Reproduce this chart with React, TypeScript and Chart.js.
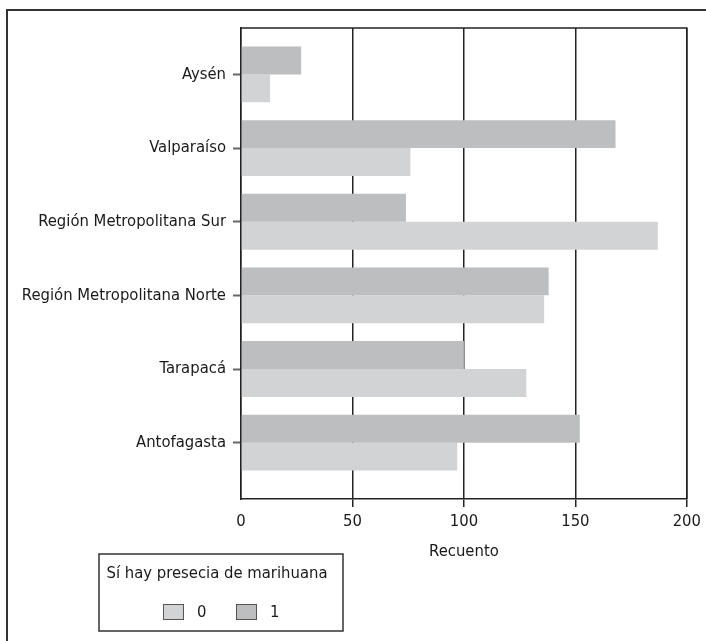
import React, { useEffect, useRef } from 'react';
import { Chart, registerables } from 'chart.js';

Chart.register(...registerables);

// ---- data ----
const regions = [
  'Aysén',
  'Valparaíso',
  'Región Metropolitana Sur',
  'Región Metropolitana Norte',
  'Tarapacá',
  'Antofagasta',
];
const presence1 = [27, 168, 74, 138, 100, 152];
const presence0 = [13, 76, 187, 136, 128, 97];
const seriesLabels = ['1', '0'];
const legendOrder = ['0', '1'];
const xTicks = [0, 50, 100, 150, 200];
const xTitle = 'Recuento';
const legendTitle = 'Sí hay presecia de marihuana';

const FAMILY = '"DejaVu Sans Condensed", "Liberation Sans Narrow", "Arial Narrow", sans-serif';
const FONT_SIZE = 16.5;
const TEXT = '#1a1a1a';
const LINE = '#222222';
const COLORS: Record<string, string> = { '1': '#bdbec0', '0': '#d2d3d5' };

const framePlugin = {
  id: 'frames',
  afterDraw(chart: any) {
    const { ctx, chartArea } = chart;
    const { left, top, right, bottom } = chartArea;
    ctx.save();
    // top and right borders of the plot
    ctx.strokeStyle = LINE;
    ctx.lineWidth = 1.5;
    ctx.beginPath();
    ctx.moveTo(left, top);
    ctx.lineTo(right, top);
    ctx.lineTo(right, bottom);
    ctx.stroke();

    // legend box
    const fx = 91;
    const fy = 543;
    ctx.strokeStyle = '#333';
    ctx.lineWidth = 1.5;
    ctx.strokeRect(fx, fy, 244, 77);

    ctx.font = `${FONT_SIZE}px ${FAMILY}`;
    ctx.fillStyle = TEXT;
    ctx.textBaseline = 'middle';
    ctx.textAlign = 'center';
    ctx.fillText(legendTitle, fx + 118, fy + 20);

    ctx.textAlign = 'left';
    legendOrder.forEach((lab, i) => {
      const bx = fx + 64 + i * 73;
      const by = fy + 50;
      ctx.fillStyle = COLORS[lab];
      ctx.fillRect(bx, by, 21, 16);
      ctx.strokeStyle = '#555';
      ctx.lineWidth = 1;
      ctx.strokeRect(bx + 0.5, by + 0.5, 20, 15);
      ctx.fillStyle = TEXT;
      ctx.fillText(lab, bx + 34, by + 8.5);
    });
    ctx.restore();
  },
};

export default function App() {
  const ref = useRef<HTMLCanvasElement | null>(null);

  useEffect(() => {
    document.body.style.overflow = 'hidden';
    const canvas = ref.current;
    if (!canvas) return;
    const font = { family: FAMILY, size: FONT_SIZE };
    const chart = new Chart(canvas, {
      type: 'bar',
      data: {
        datasets: [
          {
            label: seriesLabels[0],
            data: presence1.map((v, i) => ({ x: v, y: i })),
            backgroundColor: COLORS['1'],
            borderWidth: 0,
            categoryPercentage: 0.758,
            barPercentage: 1,
          },
          {
            label: seriesLabels[1],
            data: presence0.map((v, i) => ({ x: v, y: i })),
            backgroundColor: COLORS['0'],
            borderWidth: 0,
            categoryPercentage: 0.758,
            barPercentage: 1,
          },
        ],
      } as any,
      options: {
        indexAxis: 'y',
        responsive: false,
        animation: false,
        layout: { padding: { left: 8, right: 16, top: 15, bottom: 77 } },
        scales: {
          x: {
            type: 'linear',
            position: 'bottom',
            min: 0,
            max: 200,
            offset: false,
            afterBuildTicks: (s: any) => {
              s.ticks = xTicks.map((v) => ({ value: v }));
            },
            afterFit: (s: any) => {
              s.height = 65;
            },
            ticks: { font, color: TEXT, padding: 5, maxRotation: 0, autoSkip: false },
            grid: {
              color: LINE,
              lineWidth: 1.5,
              tickLength: 8,
              tickWidth: 1.5,
              tickColor: (c: any) => (c.tick && c.tick.value === 0 ? 'rgba(0,0,0,0)' : LINE),
              offset: false,
            },
            border: { display: true, color: LINE, width: 1.5 },
            title: {
              display: true,
              text: xTitle,
              font,
              color: TEXT,
              padding: { top: 0, bottom: 2 },
            },
          },
          y: {
            type: 'linear',
            position: 'left',
            reverse: true,
            min: -0.632,
            max: 5.765,
            offset: false,
            afterBuildTicks: (s: any) => {
              s.ticks = regions.map((_, i) => ({ value: i }));
            },
            afterFit: (s: any) => {
              s.width = 225;
            },
            ticks: {
              font,
              color: TEXT,
              padding: 7,
              autoSkip: false,
              callback: (v: any) => regions[v as number],
            },
            grid: {
              drawOnChartArea: false,
              drawTicks: true,
              tickLength: 8,
              tickColor: '#666',
              tickWidth: 2,
              offset: false,
            },
            border: { display: true, color: LINE, width: 1.5 },
          },
        },
        plugins: {
          legend: { display: false },
          tooltip: { enabled: false },
        },
      } as any,
      plugins: [framePlugin],
    });
    return () => chart.destroy();
  }, []);

  return (
    <div
      style={{
        position: 'absolute',
        left: 6,
        top: 9,
        width: 698,
        height: 630,
        borderLeft: '2px solid #333',
        borderTop: '2px solid #333',
      }}
    >
      <canvas ref={ref} width={698} height={630} style={{ display: 'block' }} />
    </div>
  );
}
